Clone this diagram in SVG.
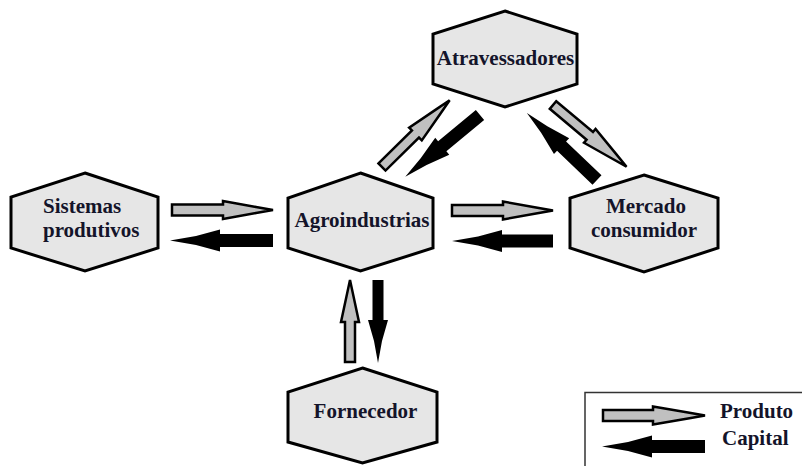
<svg xmlns="http://www.w3.org/2000/svg" width="802" height="466" viewBox="0 0 802 466">
<style>
.hex{fill:#e6e6e6;stroke:#000;stroke-width:3;stroke-linejoin:miter}
.t{font-family:"Liberation Serif","Times New Roman",serif;font-weight:bold;font-size:21px;fill:#14142a}
.prod{fill:#c0c0c0;stroke:#000;stroke-width:2.5;stroke-linejoin:miter}
.cap{fill:#000;stroke:none}
.legbox{fill:none;stroke:#333;stroke-width:1.5}
</style>
<rect width="802" height="466" fill="#fff"/>
<g id="connectors">
<polygon class="prod" transform="translate(172,210)" points="0,-5.5 51,-5.5 51,-9 84,-3 101,0 84,3 51,9 51,5.5 0,5.5"/>
<polygon class="cap" transform="translate(273,240.5) rotate(180)" points="0,-6.5 53,-6.5 53,-11 77,-4.5 103,0 77,4.5 53,11 53,6.5 0,6.5"/>
<polygon class="prod" transform="translate(452,210.5)" points="0,-5.5 51,-5.5 51,-9 84,-3 101,0 84,3 51,9 51,5.5 0,5.5"/>
<polygon class="cap" transform="translate(553,241) rotate(180)" points="0,-6.5 51,-6.5 51,-11 75,-4.5 101,0 75,4.5 51,11 51,6.5 0,6.5"/>
<polygon class="prod" transform="translate(350,362) rotate(-90)" points="0,-5 40,-5 40,-9 68,-3 82,0 68,3 40,9 40,5 0,5"/>
<polygon class="cap" transform="translate(378,280) rotate(90)" points="0,-5.5 40,-5.5 40,-10 61,-4 83,0 61,4 40,10 40,5.5 0,5.5"/>
<polygon class="prod" transform="translate(382,167) rotate(-44.6)" points="0,-5 47,-5 47,-9 79,-3 95,0 79,3 47,9 47,5 0,5"/>
<polygon class="cap" transform="translate(480,115) rotate(140.4)" points="0,-6.5 49,-6.5 49,-11 73,-4.5 97,0 73,4.5 49,11 49,6.5 0,6.5"/>
<polygon class="cap" transform="translate(597,180) rotate(-136.3)" points="0,-6.5 49,-6.5 49,-11 73,-4.5 97,0 73,4.5 49,11 49,6.5 0,6.5"/>
<polygon class="prod" transform="translate(553,105) rotate(40)" points="0,-5 48,-5 48,-9 80,-3 96,0 80,3 48,9 48,5 0,5"/>
</g>
<g id="atravessadores">
<polygon class="hex" points="505,11 577,34 577,84 505,107 433,84 433,34"/>
<text class="t" x="505.5" y="65" text-anchor="middle">Atravessadores</text>
</g>
<g id="sistemas">
<polygon class="hex" points="85,173 158,197 158,248 85,271 11,248 11,197"/>
<text class="t" x="43" y="212.5">Sistemas</text>
<text class="t" x="43" y="236.5">produtivos</text>
</g>
<g id="agroindustrias">
<polygon class="hex" points="360.5,173 433,198 433,248 360.5,271 288,248 288,198"/>
<text class="t" x="362" y="227" text-anchor="middle">Agroindustrias</text>
</g>
<g id="mercado">
<polygon class="hex" points="644,175 718,198 718,248 644,272 570,248 570,198"/>
<text class="t" x="646" y="213" text-anchor="middle">Mercado</text>
<text class="t" x="644" y="237" text-anchor="middle">consumidor</text>
</g>
<g id="fornecedor">
<polygon class="hex" points="362.5,368 437,392 437,442 362.5,463 288,442 288,392"/>
<text class="t" x="365.5" y="418" text-anchor="middle">Fornecedor</text>
</g>
<g id="legend">
<path class="legbox" d="M585,466 V392.5 H802"/>
<polygon class="prod" transform="translate(603,415.5)" points="0,-5.5 50,-5.5 50,-9 85,-3 102,0 85,3 50,9 50,5.5 0,5.5"/>
<polygon class="cap" transform="translate(705,446.5) rotate(180)" points="0,-6.5 53,-6.5 53,-11 77,-4.5 103,0 77,4.5 53,11 53,6.5 0,6.5"/>
<text class="t" x="720" y="418">Produto</text>
<text class="t" x="722" y="445">Capital</text>
</g>
</svg>
